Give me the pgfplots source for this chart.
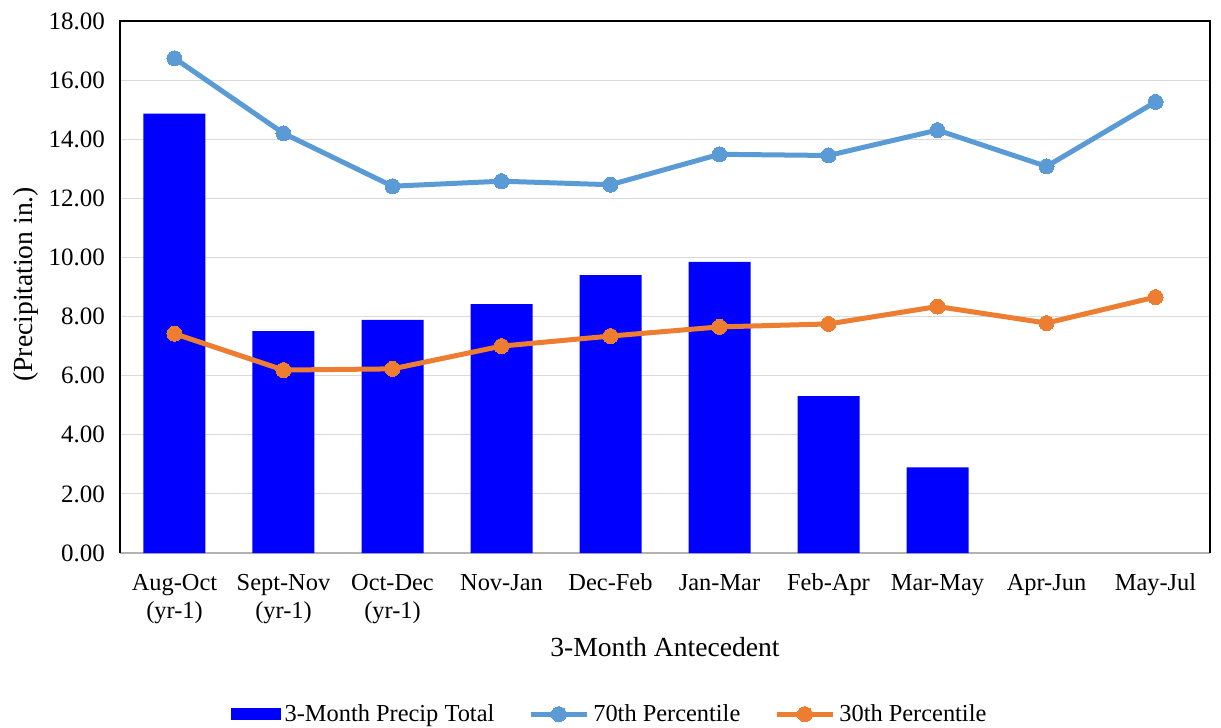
\documentclass[border=0pt]{standalone}
\usepackage{fontspec}
\setmainfont{Liberation Serif}
\usepackage{pgfplots}
\pgfplotsset{compat=1.18}
\definecolor{barblue}{RGB}{0,0,255}
\definecolor{p70}{RGB}{91,155,213}
\definecolor{p30}{RGB}{237,125,49}
\definecolor{gridgray}{RGB}{217,217,217}
\begin{document}
\begin{tikzpicture}
\useasboundingbox (-60pt,-87.5pt) rectangle (550.5pt,276.5pt);
\begin{axis}[
  at={(0,0)}, anchor=south west,
  scale only axis,
  width=545pt, height=266pt,
  xmin=-0.5, xmax=9.5,
  ymin=0, ymax=18,
  ytick={0,2,...,18},
  xtick={0,...,9},
  xticklabels={{Aug-Oct\\(yr-1)},{Sept-Nov\\(yr-1)},{Oct-Dec\\(yr-1)},Nov-Jan,Dec-Feb,Jan-Mar,Feb-Apr,Mar-May,Apr-Jun,May-Jul},
  xticklabel style={align=center, font=\fontsize{12.2}{14}\selectfont, yshift=-7pt, anchor=north},
  yticklabel style={font=\fontsize{12.5}{14}\selectfont, xshift=-4pt},
  /pgf/number format/assume math mode=true,
  /pgf/number format/.cd, fixed, fixed zerofill, precision=2, /pgfplots/.cd,
  major tick length=0pt,
  ymajorgrids,
  grid style={gridgray, line width=0.6pt},
  axis line style={draw=none},
  clip=false,
  xlabel={3-Month Antecedent},
  xlabel style={at={(axis description cs:0.5,-0.177)}, anchor=center, font=\fontsize{13.8}{16}\selectfont},
  ylabel={(Precipitation in.)},
  ylabel style={at={(axis description cs:-0.086,0.505)}, anchor=center, font=\fontsize{13.8}{16}\selectfont},
  legend style={at={(axis description cs:0.45,-0.303)}, anchor=center, draw=none,
    legend columns=3, font=\fontsize{12.2}{14}\selectfont,
    /tikz/every even column/.append style={column sep=15pt}},
  legend cell align=left,
]
\draw[gray!60, line width=0.6pt] (rel axis cs:0,0) -- (rel axis cs:1,0);
\draw[black, line width=0.7pt] (rel axis cs:0,0) -- (rel axis cs:0,1) -- (rel axis cs:1,1) -- (rel axis cs:1,0);
\addplot[ybar, bar width=31pt, fill=barblue, draw=none,
  legend image code/.code={\fill[barblue] (0pt,-3pt) rectangle (25pt,3pt);}]
  coordinates {(0,14.87) (1,7.51) (2,7.89) (3,8.42) (4,9.40) (5,9.85) (6,5.31) (7,2.90)};
\addlegendentry{3-Month Precip Total}
\addplot[p70, line width=2.5pt, mark=*, mark size=3.75pt, mark options={fill=p70, draw=p70, line width=0pt},
  legend image code/.code={\draw[mark repeat=2, mark phase=2] plot coordinates {(0pt,0pt) (14pt,0pt) (28pt,0pt)};}]
  coordinates {(0,16.74) (1,14.20) (2,12.41) (3,12.58) (4,12.46) (5,13.49) (6,13.45) (7,14.31) (8,13.08) (9,15.26)};
\addlegendentry{70th Percentile}
\addplot[p30, line width=2.5pt, mark=*, mark size=3.75pt, mark options={fill=p30, draw=p30, line width=0pt},
  legend image code/.code={\draw[mark repeat=2, mark phase=2] plot coordinates {(0pt,0pt) (14pt,0pt) (28pt,0pt)};}]
  coordinates {(0,7.42) (1,6.19) (2,6.23) (3,7.00) (4,7.34) (5,7.65) (6,7.75) (7,8.34) (8,7.78) (9,8.66)};
\addlegendentry{30th Percentile}
\end{axis}
\end{tikzpicture}
\end{document}
